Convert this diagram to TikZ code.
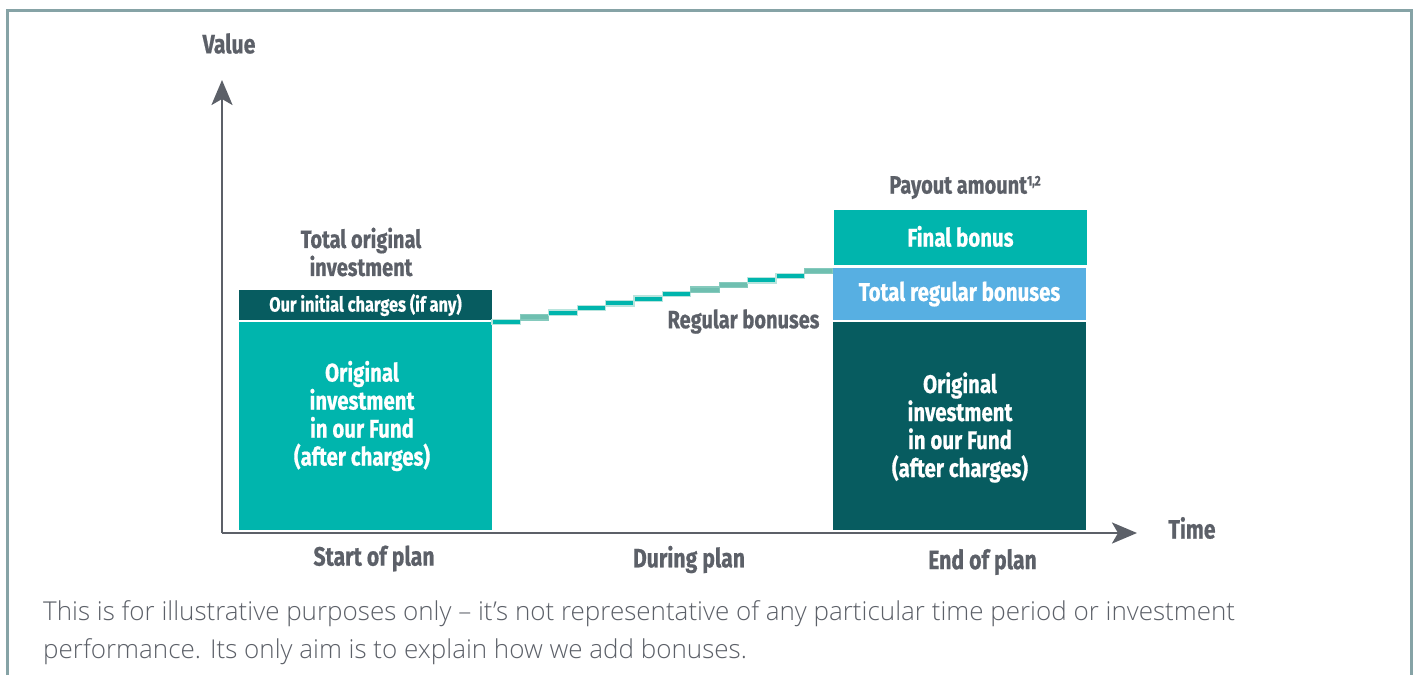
\documentclass[tikz,border=0pt]{standalone}
\usepackage{fontspec}
\usetikzlibrary{arrows.meta}
\setmainfont{Lato}
\newfontfamily\condbold[FakeStretch=0.8,FakeBold=0.6]{Fira Sans Bold}
\newfontfamily\bodyfont{Open Sans Light}
\definecolor{tealc}{HTML}{00B5AD}
\definecolor{darkc}{HTML}{075C60}
\definecolor{bluec}{HTML}{57AFE2}
\definecolor{greyc}{HTML}{5C6068}
\definecolor{framec}{HTML}{86A3A6}
\definecolor{lightstep}{HTML}{6FBFB0}
\definecolor{halo}{HTML}{B8E4DD}
\tikzset{
  x=1pt,y=-1pt,
  barbox/.style={draw=none,inner sep=0pt,outer sep=0pt,anchor=north west,text=white,align=center,font=\condbold\fontsize{25.5}{28}\selectfont},
  lab/.style={inner sep=0pt,text=greyc,align=center,font=\condbold\fontsize{26.5}{28}\selectfont},
  axisline/.style={draw=greyc,line width=2.6pt,-{Stealth[length=25pt,width=21pt,inset=6pt]}},
  stepdark/.style={fill=tealc,draw=halo,line width=1.2pt,inner sep=0pt,outer sep=0pt,minimum width=28.4pt,minimum height=5.2pt},
  steplight/.style={fill=lightstep,draw=lightstep!70!halo,line width=1.2pt,inner sep=0pt,outer sep=0pt,minimum width=28.4pt,minimum height=5.2pt},
}
\begin{document}
\begin{tikzpicture}
\useasboundingbox (0,0) rectangle (1416,675);
\fill[white] (0,0) rectangle (1416,675);
\coordinate (fa) at (7,675); \coordinate (fb) at (7,10); \coordinate (fc) at (1411,10); \coordinate (fd) at (1411,675);
\draw[framec,line width=3pt] (fa) -- (fb) -- (fc) -- (fd);

% left bars
\node[barbox,fill=darkc,minimum width=253pt,minimum height=30pt,font=\condbold\fontsize{20.5}{22}\selectfont] (charges) at (239,290) {Our initial charges (if any)};
\node[barbox,fill=tealc,minimum width=253pt,minimum height=208pt] (orig1) at (239,322) {};
\node[text=white,align=center,inner sep=0pt,font=\condbold\fontsize{25.5}{28}\selectfont] (orig1t) at (362,416) {Original\\investment\\in our Fund\\(after charges)};

% right bars
\node[barbox,fill=tealc,minimum width=253pt,minimum height=55pt,text height=20pt,text depth=2pt] (final) at (834,210) {Final bonus};
\node[barbox,fill=bluec,minimum width=253pt,minimum height=52pt] (regular) at (833,268) {Total regular bonuses};
\node[barbox,fill=darkc,minimum width=253pt,minimum height=208pt] (orig2) at (833,322) {};
\node[text=white,align=center,inner sep=0pt,font=\condbold\fontsize{25.5}{28}\selectfont] (orig2t) at (960,427.5) {Original\\investment\\in our Fund\\(after charges)};

% steps
\foreach \i/\yy/\st in {1/321.7/stepdark,2/317.3/steplight,3/312.6/stepdark,4/308/stepdark,5/303.3/stepdark,6/298.6/stepdark,7/294/stepdark,8/289.5/steplight,9/285/steplight,10/280.3/stepdark,11/275.7/stepdark,12/271/steplight}{
  \node[\st] (s\i) at ({492+14.2+28.4*(\i-1)},\yy) {};
}

% axes
\coordinate (origin) at (222,533);
\coordinate (ytip) at (222,80);
\coordinate (xtip) at (1137,533);
\draw[axisline] (origin) -- (ytip);
\draw[axisline] (origin) -- (xtip);

% labels
\node[lab] (value) at (229,43.5) {Value};
\node[lab] (time) at (1192,528) {Time};
\node[lab,font=\condbold\fontsize{25}{28}\selectfont] (total) at (361,252) {Total original\\investment};
\node[lab,font=\condbold\fontsize{25}{28}\selectfont] (payout) at (965,187.5) {Payout amount\raisebox{8pt}{\fontsize{14}{14}\selectfont 1,2}};
\node[lab,font=\condbold\fontsize{25}{28}\selectfont] (bonuses) at (743.5,321.5) {Regular bonuses};
\node[lab] (start) at (374,558.5) {Start of plan};
\node[lab] (during) at (689,559.5) {During plan};
\node[lab] (end) at (982.5,562) {End of plan};
\node[anchor=north west,inner sep=0pt,text=greyc,align=left,font=\bodyfont\fontsize{26}{38}\selectfont] (note) at (43,600) {This is for illustrative purposes only – it’s not representative of any particular time period or investment\\performance. Its only aim is to explain how we add bonuses.};
\end{tikzpicture}
\end{document}
